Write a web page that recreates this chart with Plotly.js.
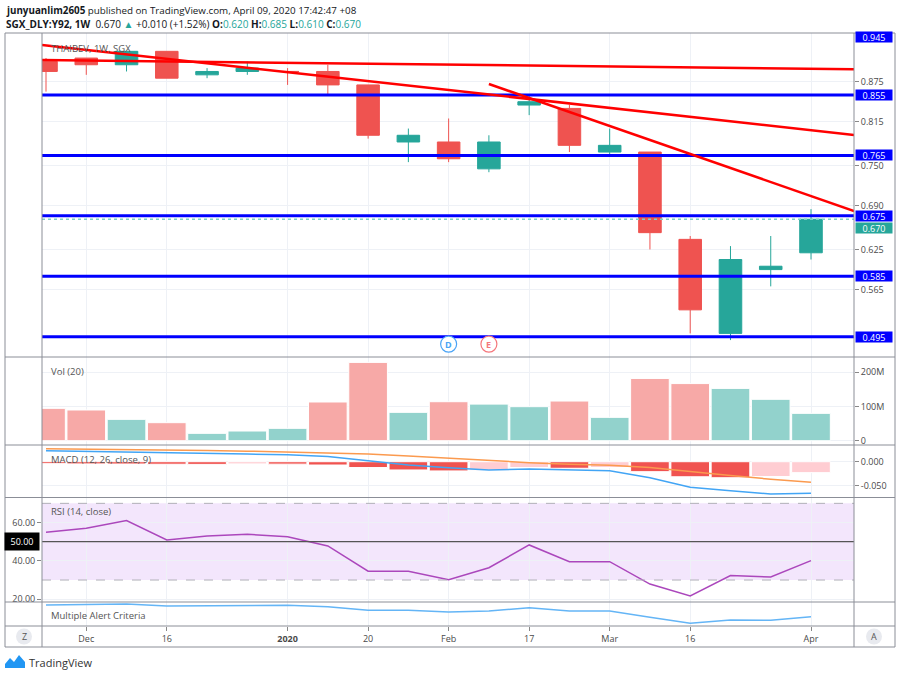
<!DOCTYPE html>
<html><head><meta charset="utf-8">
<script src="https://cdn.plot.ly/plotly-3.0.1.min.js"></script>
<style>html,body{margin:0;padding:0;background:#fff}#chart{width:900px;height:677px}</style>
</head><body><div id="chart"></div>
<script>
// ---------- data ----------
const weeks = ['2019-11-25','2019-12-02','2019-12-09','2019-12-16','2019-12-23','2019-12-30','2020-01-06','2020-01-13','2020-01-20','2020-01-27',
               '2020-02-03','2020-02-10','2020-02-17','2020-02-24','2020-03-02','2020-03-09','2020-03-16','2020-03-23','2020-03-30','2020-04-06'];
const openP  = [0.905,0.910,0.900,0.920,0.885,0.890,0.890,0.890,0.870,0.785,0.785,0.745,0.840,0.835,0.770,0.770,0.640,0.500,0.595,0.620];
const highP  = [0.910,0.910,0.920,0.920,0.895,0.905,0.895,0.900,0.870,0.805,0.820,0.795,0.855,0.840,0.805,0.770,0.645,0.630,0.645,0.685];
const lowP   = [0.860,0.885,0.890,0.880,0.880,0.885,0.870,0.855,0.790,0.755,0.755,0.740,0.825,0.770,0.765,0.625,0.500,0.490,0.570,0.610];
const closeP = [0.890,0.900,0.920,0.880,0.890,0.895,0.890,0.870,0.795,0.795,0.760,0.785,0.845,0.780,0.780,0.650,0.535,0.610,0.600,0.670];
const volume = [94.6e6,89.8e6,62.4e6,52.7e6,21.5e6,28.3e6,36.1e6,113.2e6,229e6,82.9e6,114e6,107e6,99.5e6,116e6,68.3e6,182e6,167e6,153e6,121e6,80e6];
const macdLine   = [0.0226,0.0215,0.0205,0.0185,0.0170,0.0158,0.0144,0.0105,0.0020,-0.0070,-0.0125,-0.0171,-0.0150,-0.0165,-0.0185,-0.0330,-0.0527,-0.0597,-0.0665,-0.0650];
const signalLine = [0.0268,0.0262,0.0255,0.0245,0.0232,0.0218,0.0203,0.0185,0.0160,0.0120,0.0070,0.0020,-0.0020,-0.0050,-0.0075,-0.0120,-0.0210,-0.0285,-0.0360,-0.0425];
const macdHist   = [-0.0040,-0.0045,-0.0048,-0.0052,-0.0055,-0.0045,-0.0050,-0.0068,-0.0120,-0.0170,-0.0190,-0.0175,-0.0120,-0.0135,-0.0120,-0.0205,-0.0310,-0.0330,-0.0305,-0.0225];
const rsi        = [54.9,57.0,61.0,50.9,53.0,53.9,52.6,47.8,34.6,34.6,30.2,36.4,48.3,39.6,39.6,27.9,21.7,32.3,31.6,40.1];
const alertLine  = [21,21.5,22,20,20.3,20.5,20.7,19.3,15.7,15.7,14,15,18.3,15,15,8.7,2.7,6,5.7,9.3];
const tickWeeks  = ['2019-12-02','2019-12-16','2020-01-06','2020-01-20','2020-02-03','2020-02-17','2020-03-02','2020-03-16','2020-04-06'];
const tickLabels = ['Dec','16','<b>2020</b>','20','Feb','17','Mar','16','Apr'];
const priceTicks = [0.875,0.815,0.750,0.690,0.625,0.565];
const levels     = [0.855,0.765,0.675,0.585,0.495];
const topLevel   = 0.945;
const lastPrice  = 0.670;
// trend lines: [start week index, start price, end week index, end price]
const trendlines = [[-0.1,0.9295,20.07,0.7954],[-0.1,0.9071,20.07,0.8933],[11.0,0.8714,20.07,0.6822]];
const events = [['2020-02-03','D','#4aa3f5'],['2020-02-10','E','#f4777c']];

// ---------- helpers ----------
const xi = weeks.map((w,i)=>i);
const tickIdx = tickWeeks.map(w=>weeks.indexOf(w));
const PX = px => (px-42)/812;
const PY = py => (626-py)/593;
const UP='#26A69A', DN='#EF5350';
const FONT='Open Sans, Noto Sans, sans-serif';
const GRID='#eef1f6';

const volColors = xi.map(i => closeP[i] >= openP[i] ? '#92D2CC' : '#F7A9A7');
const histColors = xi.map(i => (i===0 || macdHist[i] < macdHist[i-1]) ? '#F05350' : '#FFCDD2');

const traces = [
  {type:'candlestick', x:xi, open:openP, high:highP, low:lowP, close:closeP, xaxis:'x', yaxis:'y',
   increasing:{line:{color:UP,width:1}, fillcolor:UP}, decreasing:{line:{color:DN,width:1}, fillcolor:DN}, whiskerwidth:0},
  {type:'bar', x:xi, y:volume, xaxis:'x2', yaxis:'y2', marker:{color:volColors, line:{color:'#fff',width:1}}},
  {type:'bar', x:xi, y:macdHist, xaxis:'x3', yaxis:'y3', marker:{color:histColors, line:{color:'#fff',width:1}}},
  {type:'scatter', mode:'lines', x:xi, y:signalLine, xaxis:'x3', yaxis:'y3', line:{color:'#FB9A4F',width:1.5}},
  {type:'scatter', mode:'lines', x:xi, y:macdLine, xaxis:'x3', yaxis:'y3', line:{color:'#42A5F5',width:1.5}},
  {type:'scatter', mode:'lines', x:xi, y:rsi, xaxis:'x4', yaxis:'y4', line:{color:'#AB47BC',width:1.5}},
  {type:'scatter', mode:'lines', x:xi, y:alertLine, xaxis:'x5', yaxis:'y5', line:{color:'#64B5F6',width:1.5}}
];

const xrange=[-0.0994, 20.068];
function xa(anchor, last){
  return {anchor:anchor, range:xrange, type:'linear', tickvals:tickIdx, ticktext:tickLabels,
    showticklabels:!!last, ticks:last?'outside':'', ticklen:4, tickcolor:'#888',
    tickfont:{family:FONT,size:9,color:'#4a4a4a'}, showgrid:true, gridcolor:GRID, gridwidth:1,
    zeroline:false, showline:false, fixedrange:true, rangeslider:{visible:false}};
}
const tf = {family:FONT,size:9,color:'#4a4a4a'};
const layout = {
  width:900, height:677, margin:{l:42,r:46,t:33,b:51}, paper_bgcolor:'#fff', plot_bgcolor:'#fff',
  showlegend:false, hovermode:false, dragmode:false, bargap:0.04, boxgap:0.2, font:{family:FONT},
  xaxis:xa('y'), xaxis2:Object.assign(xa('y2'),{matches:'x'}), xaxis3:Object.assign(xa('y3'),{matches:'x'}),
  xaxis4:Object.assign(xa('y4'),{matches:'x'}), xaxis5:Object.assign(xa('y5',true),{matches:'x'}),
  yaxis:{domain:[0.4536,1], range:[0.4648,0.9473], side:'right', anchor:'x', tickvals:priceTicks, tickformat:'.3f',
    ticks:'outside', ticklen:4, tickcolor:'#888', tickfont:tf, showgrid:true, gridcolor:GRID, zeroline:false, fixedrange:true},
  yaxis2:{domain:[0.3052,0.4536], range:[-12.6e6,244.7e6], side:'right', anchor:'x2', tickvals:[0,1e8,2e8], ticktext:['0','100M','200M'],
    ticks:'outside', ticklen:4, tickcolor:'#888', tickfont:tf, showgrid:true, gridcolor:GRID, zeroline:false, fixedrange:true},
  yaxis3:{domain:[0.2167,0.3052], range:[-0.0737,0.0344], side:'right', anchor:'x3', tickvals:[0,-0.05], ticktext:['0.000','-0.050'],
    ticks:'outside', ticklen:4, tickcolor:'#888', tickfont:tf, showgrid:true, gridcolor:GRID, zeroline:false, fixedrange:true},
  yaxis4:{domain:[0.0405,0.2167], range:[18.54,73.06], side:'left', anchor:'x4', tickvals:[20,40,60], ticktext:['20.00','40.00','60.00'],
    ticks:'outside', ticklen:4, tickcolor:'#888', tickfont:tf, showgrid:true, gridcolor:GRID, zeroline:false, fixedrange:true},
  yaxis5:{domain:[0,0.0405], range:[0,24], side:'right', anchor:'x5', showticklabels:false, ticks:'', showgrid:false, zeroline:false, fixedrange:true},
  shapes:[], annotations:[]
};
const S = layout.shapes, A = layout.annotations;

// RSI band and lines
S.push({type:'rect', xref:'x4 domain', x0:0, x1:1, yref:'y4', y0:30, y1:70, fillcolor:'#F3E6FC', line:{width:0}, layer:'below'});
[70,30].forEach(v=>S.push({type:'line', xref:'x4 domain', x0:0, x1:1, yref:'y4', y0:v, y1:v, line:{color:'#b0b0b8',width:1,dash:'dash'}}));
S.push({type:'line', xref:'x4 domain', x0:0, x1:1, yref:'y4', y0:50, y1:50, line:{color:'#555',width:1.3}});

// price levels
levels.forEach(v=>{
  S.push({type:'line', xref:'x domain', x0:0, x1:1, yref:'y', y0:v, y1:v, line:{color:'#0000FF',width:3}});
});
S.push({type:'line', xref:'x domain', x0:0, x1:1, yref:'y', y0:lastPrice, y1:lastPrice, line:{color:'#7fcfc6',width:1.5,dash:'dot'}});
// trend lines
trendlines.forEach(t=>S.push({type:'line', xref:'x', yref:'y', x0:t[0], y0:t[1], x1:t[2], y1:t[3], line:{color:'#FF0000',width:2.5}}));

// level labels
function priceLabel(v, bg, yshift){
  A.push({xref:'paper', x:1, xanchor:'left', xshift:1, yref:'y', y:v, yanchor:'middle', yshift:yshift||0, text:v.toFixed(3),
    showarrow:false, bgcolor:bg, font:{family:FONT,size:9,color:'#fff'}, borderpad:0, width:36, height:10, align:'center'});
}
levels.forEach(v=>priceLabel(v,'#0000FF'));
priceLabel(topLevel,'#0000FF',-2);
priceLabel(lastPrice,UP,-9);

// events
events.forEach(e=>{
  const i = weeks.indexOf(e[0]);
  S.push({type:'circle', xref:'x', yref:'y domain', xsizemode:'pixel', ysizemode:'pixel', xanchor:i, yanchor:0.04,
    x0:-8, x1:8, y0:-8, y1:8, line:{color:e[2],width:1.2}, fillcolor:'#fff'});
  A.push({xref:'x', yref:'y domain', x:i, y:0.04, xanchor:'center', yanchor:'middle', text:'<b>'+e[1]+'</b>', showarrow:false,
    font:{family:FONT,size:9,color:e[2]}});
});

// frame & separators
const FL = {color:'#8b8e97', width:1};
S.push({type:'rect', xref:'paper', yref:'paper', x0:PX(5), x1:PX(895), y0:PY(647), y1:PY(33), line:FL, layer:'above'});
[357,445,497.5,602,626].forEach(py=>S.push({type:'line', xref:'paper', yref:'paper', x0:PX(5), x1:PX(895), y0:PY(py), y1:PY(py), line:FL}));
[42,854].forEach(px=>S.push({type:'line', xref:'paper', yref:'paper', x0:PX(px), x1:PX(px), y0:PY(647), y1:PY(33), line:FL}));

// Z / A buttons
[[24,'Z'],[874,'A']].forEach(b=>{
  S.push({type:'circle', xref:'paper', yref:'paper', xsizemode:'pixel', ysizemode:'pixel', xanchor:PX(b[0]), yanchor:PY(636.5),
    x0:-8, x1:8, y0:-8, y1:8, line:{width:0}, fillcolor:'#e8eaef'});
  A.push({xref:'paper', yref:'paper', x:PX(b[0]), y:PY(636.5), xanchor:'center', yanchor:'middle', text:b[1], showarrow:false,
    font:{family:FONT,size:9,color:'#555'}});
});

// RSI 50 label box
A.push({xref:'paper', x:PX(40), xanchor:'right', yref:'y4', y:50, yanchor:'middle', text:'50.00', showarrow:false, bgcolor:'#000',
  font:{family:FONT,size:9,color:'#fff'}, borderpad:2, width:30});

// pane titles
const titleFont = {family:FONT,size:9.5,color:'#555'};
[['THAIBEV, 1W, SGX',48],['Vol (20)',371],['MACD (12, 26, close, 9)',459],['RSI (14, close)',511],['Multiple Alert Criteria',615.5]].forEach(t=>{
  A.push({xref:'paper', yref:'paper', x:PX(49), y:PY(t[1]), xanchor:'left', yanchor:'middle', text:t[0], showarrow:false, font:titleFont});
});

// header
A.push({xref:'paper', yref:'paper', x:PX(4), y:PY(10), xanchor:'left', yanchor:'middle', showarrow:false,
  text:'<b>junyuanlim2605</b> published on TradingView.com, April 09, 2020 17:42:47 +08', font:{family:FONT,size:9.8,color:'#131722'}});
const tl = s=>'<span style="color:#26A69A">'+s+'</span>';
A.push({xref:'paper', yref:'paper', x:PX(4), y:PY(24), xanchor:'left', yanchor:'middle', showarrow:false,
  text:'<b>SGX_DLY:Y92, 1W</b>  0.670 '+tl('▲')+' +0.010 (+1.52%) <b>O:</b>'+tl('0.620')+' <b>H:</b>'+tl('0.685')+' <b>L:</b>'+tl('0.610')+' <b>C:</b>'+tl('0.670'),
  font:{family:FONT,size:10,color:'#131722'}});

// footer logo
function pth(pts){ return 'M '+pts.map(p=>PX(p[0])+' '+PY(p[1])).join(' L ')+' Z'; }
S.push({type:'path', xref:'paper', yref:'paper', path:pth([[5,668],[5,664],[10,658],[14,662],[19,655],[25,662],[25,668]]), fillcolor:'#2196F3', line:{width:0}});
A.push({xref:'paper', yref:'paper', x:PX(27), y:PY(662), xanchor:'left', yanchor:'middle', showarrow:false, text:'TradingView',
  font:{family:FONT,size:11,color:'#333'}});

Plotly.newPlot('chart', traces, layout, {staticPlot:true, displayModeBar:false});
</script></body></html>
